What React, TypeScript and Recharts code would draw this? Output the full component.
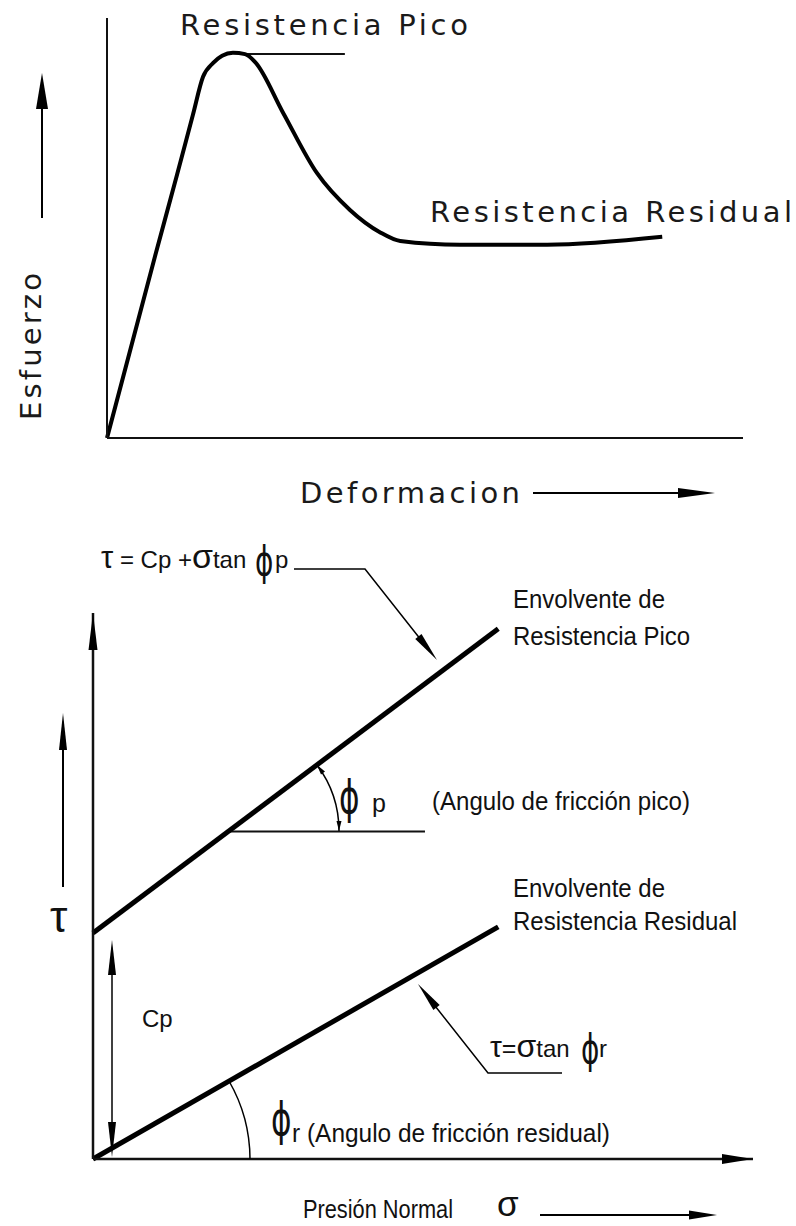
import { LineChart, Line, XAxis, YAxis, ReferenceLine } from "recharts";

// curva esfuerzo-deformacion (unidades relativas 0-100)
const deformacion = [0, 7.5, 11.0, 13.5, 15.1, 16.7, 18.1, 19.8, 21.7, 23.3, 27.7, 33.0, 38.2, 42.9, 46.1, 55.5, 69.2, 87.3];
const esfuerzo = [0, 43.0, 62.6, 76.9, 86.0, 89.3, 91.0, 91.7, 91.4, 89.5, 77.4, 63.1, 54.3, 49.0, 46.9, 46.0, 46.0, 47.9];
const picoNivel = 91.4;
const picoTramo = [22.0, 37.4];

// envolventes de Mohr-Coulomb
const presion = [0, 61.4];
const envolventePico = [41.4, 97.1];
const envolventeResidual = [0, 42.5];
const phiPNivel = 60;
const phiPTramo = [20.6, 50.3];

const curva = deformacion.map((d, i) => ({ d, e: esfuerzo[i] }));
const envolventes = presion.map((s, i) => ({ s, pico: envolventePico[i], residual: envolventeResidual[i] }));

const cad = { fontFamily: "DejaVu Sans", fontSize: 29, fill: "#1a1a1a" };
const arial = { fontFamily: "Liberation Sans", fontSize: 25, fill: "#111" };
const ejeLinea = { stroke: "#111", strokeWidth: 2 };

function head(tx: number, ty: number, dx: number, dy: number, len: number, w: number) {
  const n = Math.hypot(dx, dy);
  const ux = dx / n, uy = dy / n;
  const bx = tx - ux * len, by = ty - uy * len;
  return `${tx},${ty} ${bx - uy * w},${by + ux * w} ${bx + uy * w},${by - ux * w}`;
}

// simbolo phi alto, como en el dibujo original
function Phi({ x, y, size = 38 }: { x: number; y: number; size?: number }) {
  return (
    <text transform={`translate(${x},${y}) scale(0.82,1.2)`} fontFamily="DejaVu Sans" fontSize={size} fill="#111">
      ϕ
    </text>
  );
}

function Anotaciones() {
  return (
    <svg width={796} height={1226} style={{ position: "absolute", left: 0, top: 0, pointerEvents: "none" }}>
      {/* grafico superior */}
      <text x={180} y={35} {...cad} textLength={288} lengthAdjust="spacing">Resistencia  Pico</text>
      <text x={430} y={222} {...cad} textLength={362} lengthAdjust="spacing">Resistencia  Residual</text>
      <text transform="translate(41,420) rotate(-90)" {...cad} textLength={147} lengthAdjust="spacing">Esfuerzo</text>
      <line x1={42} y1={218} x2={42} y2={100} stroke="#000" strokeWidth={2} />
      <polygon points={head(42, 73, 0, -1, 36, 6)} fill="#000" />
      <text x={300} y={503} {...cad} textLength={220} lengthAdjust="spacing">Deformacion</text>
      <line x1={533} y1={493} x2={690} y2={493} stroke="#000" strokeWidth={2} />
      <polygon points={head(715, 493, 1, 0, 37, 5)} fill="#000" />

      {/* grafico inferior */}
      <polygon points={head(93, 613, 0, -1, 37, 4.5)} fill="#000" />
      <polygon points={head(753, 1159, 1, 0, 31, 5)} fill="#000" />

      <text x={101} y={568} fill="#111" fontFamily="Liberation Sans">
        <tspan fontSize={31}>τ</tspan>
        <tspan fontSize={24}> = Cp +</tspan>
        <tspan fontSize={34}>σ</tspan>
        <tspan fontSize={24}>tan</tspan>
      </text>
      <Phi x={255} y={575} size={34} />
      <text x={275} y={568} fontFamily="Liberation Sans" fontSize={24} fill="#111">p</text>
      <polyline points="294,569 365,569 425,645" fill="none" stroke="#000" strokeWidth={1.5} />
      <polygon points={head(437, 660, 72, 91, 30, 4)} fill="#000" />

      <text x={513} y={608} {...arial} textLength={152} lengthAdjust="spacingAndGlyphs">Envolvente de</text>
      <text x={513} y={645} {...arial} textLength={177} lengthAdjust="spacingAndGlyphs">Resistencia Pico</text>

      <path d="M 339 831 A 110 110 0 0 0 317 765" fill="none" stroke="#000" strokeWidth={1.5} />
      <polygon points={head(339, 831, 0, 1, 10, 2.5)} fill="#000" />
      <polygon points={head(317, 765, -0.6, -0.8, 10, 2.5)} fill="#000" />
      <Phi x={339} y={813} />
      <text x={372} y={812} {...arial}>p</text>
      <text x={432} y={810} {...arial} textLength={258} lengthAdjust="spacingAndGlyphs">(Angulo de fricción pico)</text>

      <line x1={63} y1={887} x2={63} y2={740} stroke="#000" strokeWidth={2} />
      <polygon points={head(63, 713, 0, -1, 37, 4)} fill="#000" />
      <text x={50} y={932} fontFamily="Liberation Sans" fontSize={44} fill="#111">τ</text>

      <line x1={112} y1={965} x2={112} y2={1130} stroke="#000" strokeWidth={1.5} />
      <polygon points={head(112, 940, 0, -1, 35, 4)} fill="#000" />
      <polygon points={head(112, 1157, 0, 1, 35, 4)} fill="#000" />
      <text x={142} y={1027} fontFamily="Liberation Sans" fontSize={24} fill="#111">Cp</text>

      <text x={513} y={897} {...arial} textLength={152} lengthAdjust="spacingAndGlyphs">Envolvente de</text>
      <text x={513} y={930} {...arial} textLength={224} lengthAdjust="spacingAndGlyphs">Resistencia Residual</text>

      <polyline points="562,1073 488,1073 428,997" fill="none" stroke="#000" strokeWidth={1.5} />
      <polygon points={head(418, 984, -70, -89, 30, 4)} fill="#000" />
      <text x={490} y={1057} fill="#111" fontFamily="Liberation Sans">
        <tspan fontSize={30}>τ</tspan>
        <tspan fontSize={25}>=</tspan>
        <tspan fontSize={32}>σ</tspan>
        <tspan fontSize={24}>tan</tspan>
      </text>
      <Phi x={581} y={1063} size={34} />
      <text x={599} y={1057} fontFamily="Liberation Sans" fontSize={24} fill="#111">r</text>

      <path d="M 250 1159 A 157 157 0 0 0 229 1081" fill="none" stroke="#000" strokeWidth={1.5} />
      <Phi x={271} y={1135} />
      <text x={292} y={1142} {...arial} textLength={318} lengthAdjust="spacingAndGlyphs">r (Angulo de fricción residual)</text>

      <text x={303} y={1218} {...arial} textLength={150} lengthAdjust="spacingAndGlyphs">Presión Normal</text>
      <text x={497} y={1216} fontFamily="Liberation Sans" fontSize={35} fill="#111">σ</text>
      <line x1={540} y1={1215} x2={695} y2={1215} stroke="#000" strokeWidth={2} />
      <polygon points={head(717, 1215, 1, 0, 28, 4.5)} fill="#000" />
    </svg>
  );
}

export default function App() {
  return (
    <div style={{ position: "absolute", left: 0, top: 0, width: 796, height: 1226, background: "#fff" }}>
      <div style={{ position: "absolute", left: 0, top: 0 }}>
        <LineChart width={796} height={500} data={curva} margin={{ top: 18, right: 53, bottom: 61, left: 106 }}>
          <XAxis dataKey="d" type="number" domain={[0, 100]} tick={false} tickLine={false} height={1} axisLine={ejeLinea} />
          <YAxis type="number" domain={[0, 100]} tick={false} tickLine={false} width={1} axisLine={ejeLinea} />
          <ReferenceLine
            segment={[{ x: picoTramo[0], y: picoNivel }, { x: picoTramo[1], y: picoNivel }]}
            stroke="#111"
            strokeWidth={2}
          />
          <Line dataKey="e" type="monotone" stroke="#000" strokeWidth={4} dot={false} isAnimationActive={false} />
        </LineChart>
      </div>
      <div style={{ position: "absolute", left: 0, top: 540 }}>
        <LineChart width={796} height={686} data={envolventes} margin={{ top: 73, right: 43, bottom: 66, left: 92 }}>
          <XAxis dataKey="s" type="number" domain={[0, 100]} tick={false} tickLine={false} height={1} axisLine={{ stroke: "#111", strokeWidth: 2.5 }} />
          <YAxis type="number" domain={[0, 100]} tick={false} tickLine={false} width={1} axisLine={{ stroke: "#111", strokeWidth: 2.5 }} />
          <ReferenceLine
            segment={[{ x: phiPTramo[0], y: phiPNivel }, { x: phiPTramo[1], y: phiPNivel }]}
            stroke="#111"
            strokeWidth={2}
          />
          <Line dataKey="pico" type="linear" stroke="#000" strokeWidth={5} dot={false} isAnimationActive={false} />
          <Line dataKey="residual" type="linear" stroke="#000" strokeWidth={5} dot={false} isAnimationActive={false} />
        </LineChart>
      </div>
      <Anotaciones />
    </div>
  );
}
